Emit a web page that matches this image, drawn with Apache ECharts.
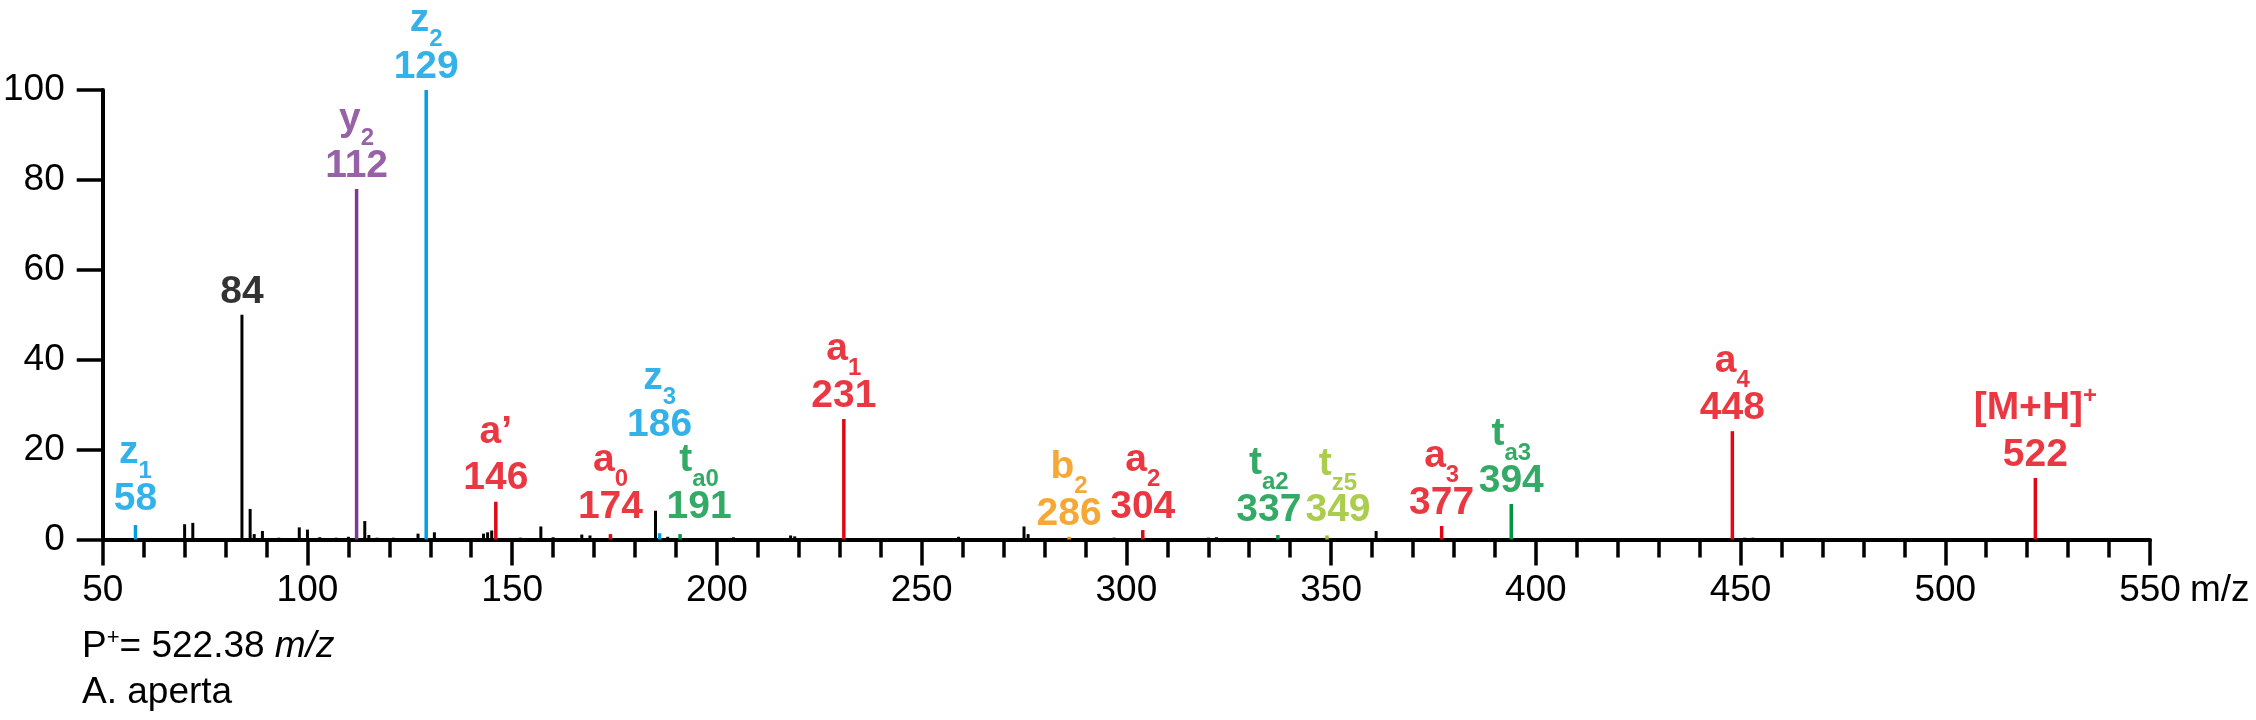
<!DOCTYPE html>
<html><head><meta charset="utf-8">
<script src="https://cdn.jsdelivr.net/npm/echarts@6/dist/echarts.min.js"></script>
<style>html,body{margin:0;padding:0;background:#fff}#c{width:2256px;height:720px}</style>
</head><body><div id="c"></div>
<script>
// ---- data (m/z, relative intensity %) ----
const blackPeaks = [[62,0.3],[66,0.3],[70,3.4],[72,3.7],[76,0.3],[84,50],[86,6.8],[87,1.2],[89,1.9],[93,0.4],[98,2.7],[100,2.2],[103,0.5],[107,0.4],[110,0.6],[114,4.1],[115,1.0],[117,0.4],[121,0.4],[127,1.3],[131,1.6],[136,0.3],[143,1.3],[144,1.6],[145,2.0],[152,0.4],[157,2.9],[160,0.5],[167,1.1],[169,0.9],[185,6.4],[188,0.6],[204,0.5],[211,0.3],[218,0.9],[219,0.7],[236,0.3],[246,0.3],[259,0.6],[265,0.3],[275,2.9],[276,1.2],[297,0.4],[310,0.3],[320,0.4],[322,0.5],[342,0.3],[361,1.9],[365,0.3],[382,0.3],[451,0.4],[453,0.4],[500,0.3],[525,0.3]];
const zIons = [[58,3.2],[129,100],[186,1.4]];
const yIons = [[112,78]];
const aIons = [[146,8.4],[174,1.2],[231,26.8],[304,2.1],[377,3.0],[448,24.1],[522,13.7]];
const taIons = [[191,1.2],[337,1.0],[394,7.9]];
const bIons = [[286,0.6]];
const tzIons = [[349,0.9]];

// label texts: [main, subscript, superscript]
const blackLabels = {84: ['', '', '']};
const zLabels = [['z','1',''],['z','2',''],['z','3','']];
const yLabels = [['y','2','']];
const aLabels = [['a\u2019','',''],['a','0',''],['a','1',''],['a','2',''],['a','3',''],['a','4',''],['[M+H]','','+']];
const taLabels = [['t','a0',''],['t','a2',''],['t','a3','']];
const bLabels = [['b','2','']];
const tzLabels = [['t','z5','']];

// axes
const xMin = 50, xMax = 550, xLabelStep = 50, xMinorStep = 10;
const yMin = 0, yMax = 100, yStep = 20;

// ---- styling / layout (not data) ----
const COLORS = {k:'#000000', z:'#009fe3', y:'#7d3a91', a:'#e30613', ta:'#009640', b:'#f39200', tz:'#95c11f'};
const FONT = '"Liberation Sans", Arial, sans-serif';
const labelNudge = {186:[0,-85], 191:[19,-4], 337:[-9,-2], 349:[11,-2], 174:[0,-4], 58:[0,-3]};

function rich(color){
  return {
    m:{fontSize:39,fontWeight:'bold',color:color,fontFamily:FONT,lineHeight:54,verticalAlign:'middle'},
    s:{fontSize:24,fontWeight:'bold',color:color,fontFamily:FONT,lineHeight:1,height:24,verticalAlign:'top',padding:[34,0,0,0]},
    p:{fontSize:24,fontWeight:'bold',color:color,fontFamily:FONT,lineHeight:1,height:24,verticalAlign:'top',padding:[3,0,0,0]},
    v:{fontSize:39,fontWeight:'bold',color:color,fontFamily:FONT,lineHeight:39,verticalAlign:'middle'}
  };
}
function labelItem(pt, lab, color){
  let f = '';
  if (lab[0]) {
    f += '{m|' + lab[0] + '}';
    if (lab[1]) f += '{s|' + lab[1] + '}';
    if (lab[2]) f += '{p|' + lab[2] + '}';
    f += '\n';
  }
  f += '{v|' + Math.round(pt[0]) + '}';
  const nud = labelNudge[pt[0]] || [0,0];
  return {value:[pt[0], pt[1]], label:{show:true, position:'top', distance:3, offset:nud, formatter:f, rich:rich(color), align:'center'}};
}
function stemSeries(data, color, width){
  return {type:'custom', data:data, itemStyle:{color:color}, z:3, silent:true,
    renderItem:function(params, api){
      const x = api.value(0), y = api.value(1);
      const p0 = api.coord([x,0]), p1 = api.coord([x,y]);
      return {type:'line', shape:{x1:p0[0],y1:p0[1],x2:p1[0],y2:p1[1]}, style:{stroke:color,lineWidth:width,lineCap:'butt'}};
    }};
}
const groups = [
  [blackPeaks, null, COLORS.k, 3],
  [zIons, zLabels, COLORS.z, 3.5],
  [yIons, yLabels, COLORS.y, 3.5],
  [aIons, aLabels, COLORS.a, 3.5],
  [taIons, taLabels, COLORS.ta, 3.5],
  [bIons, bLabels, COLORS.b, 3.5],
  [tzIons, tzLabels, COLORS.tz, 3.5]
];
const series = [];
const labelData = [];
groups.forEach(g => {
  series.push(stemSeries(g[0], g[2], g[3]));
  g[0].forEach((pt, i) => {
    if (g[1]) labelData.push(labelItem(pt, g[1][i], g[2]));
    else if (blackLabels[pt[0]]) labelData.push(labelItem(pt, blackLabels[pt[0]], g[2]));
  });
});
series.push({type:'scatter', data:labelData, symbolSize:1, itemStyle:{color:'rgba(0,0,0,0)'}, z:5, silent:true});

const chart = echarts.init(document.getElementById('c'), null, {renderer:'canvas'});
chart.setOption({
  animation:false,
  backgroundColor:'#fff',
  grid:{left:99.6, right:106, top:90, bottom:180.5, containLabel:false},
  xAxis:{type:'value', min:xMin, max:xMax, interval:xLabelStep,
    axisLine:{show:true, onZero:false, lineStyle:{color:'#000', width:4}},
    axisTick:{show:true, inside:false, length:26, lineStyle:{color:'#000', width:3.5}},
    minorTick:{show:true, splitNumber:xLabelStep/xMinorStep, length:18, lineStyle:{color:'#000', width:3.5}},
    splitLine:{show:false}, minorSplitLine:{show:false},
    axisLabel:{show:true, margin:33, color:'#000', fontSize:37, fontFamily:FONT},
    name:'m/z', nameLocation:'end', nameGap:40,
    nameTextStyle:{color:'#000', fontSize:37, fontFamily:FONT, verticalAlign:'top', align:'left', padding:[33,0,0,0]}
  },
  yAxis:{type:'value', min:yMin, max:yMax, interval:yStep,
    axisLine:{show:true, lineStyle:{color:'#000', width:4}},
    axisTick:{show:true, inside:false, length:26, lineStyle:{color:'#000', width:3.5}},
    splitLine:{show:false},
    axisLabel:{show:true, margin:38, color:'#000', fontSize:37, fontFamily:FONT}
  },
  graphic:[
    {type:'text', left:82, top:627, style:{text:'{a|P}{s|+}{a|= 522.38 }{i|m/z}', rich:{
      a:{fontSize:37, fontFamily:FONT, fill:'#000', lineHeight:40},
      s:{fontSize:22, fontFamily:FONT, fill:'#000', lineHeight:22, verticalAlign:'top'},
      i:{fontSize:37, fontFamily:FONT, fontStyle:'italic', fill:'#000', lineHeight:40}}}},
    {type:'text', left:82, top:674, style:{text:'A. aperta', fontSize:37, fontFamily:FONT, fill:'#000'}}
  ],
  series:series
});
</script></body></html>
